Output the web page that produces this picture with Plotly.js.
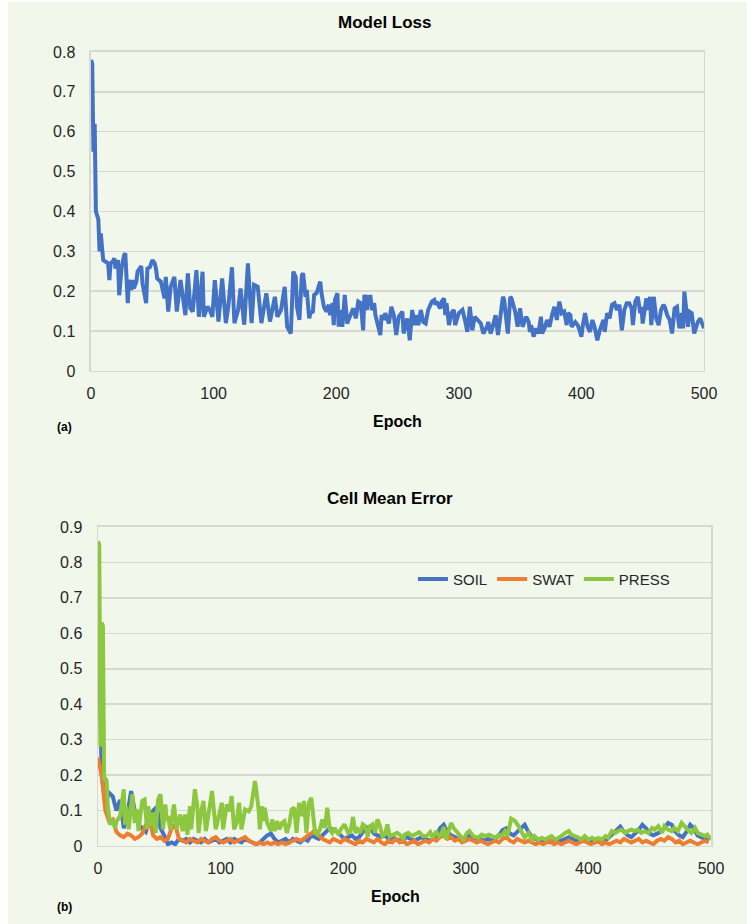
<!DOCTYPE html>
<html>
<head>
<meta charset="utf-8">
<script src="https://cdn.plot.ly/plotly-3.0.1.min.js"></script>
<style>
  html, body { margin: 0; padding: 0; background: #ffffff; }
  #chart { position: absolute; left: 8px; top: 2px; width: 739px; height: 922px; }
</style>
</head>
<body>
<div id="chart"></div>
<script>
// ---------- Data: (a) Model Loss ----------
const lossEpoch = [
  0,1,2,3,4,5,6,7,8,9,10,12,14,15,16,18,19,20,22,23,25,27,28,30,31,33,34,35,37,38,
  41,42,45,46,48,50,52,53,54,57,60,61,63,65,68,70,73,77,79,81,83,86,88,91,92,95,97,99,101,104,
  107,110,112,115,117,120,122,125,128,131,133,136,139,143,146,150,152,155,158,160,163,165,167,168,170,172,173,175,176,178,
  179,181,182,184,187,188,190,192,194,195,197,198,199,201,202,203,205,207,209,210,212,214,216,217,218,220,222,223,225,226,
  228,229,231,232,234,236,237,239,240,243,245,247,249,251,254,255,258,259,260,262,264,266,267,269,271,273,275,278,280,281,
  282,284,285,286,288,289,290,292,294,296,297,300,303,305,307,309,311,313,315,318,320,323,324,326,328,330,332,335,336,337,
  340,342,343,346,348,350,352,355,357,358,359,361,363,365,367,368,370,372,374,376,378,380,382,384,386,388,389,391,392,395,
  397,399,400,401,403,405,407,409,411,413,415,418,419,421,423,425,427,429,431,433,435,437,439,441,442,444,446,448,449,450,
  452,453,454,456,457,459,461,463,465,467,468,470,472,474,476,478,479,480,482,483,484,486,487,488,490,491,492,495,497,498,
  500
];
const lossValue = [
  0.78,0.77,0.55,0.62,0.40,0.39,0.38,0.30,0.345,0.31,0.278,0.274,0.27,0.228,0.27,0.275,0.283,0.257,0.278,0.19,0.26,0.29,0.295,0.17,0.228,0.203,0.228,0.207,0.224,0.249,
  0.263,0.22,0.17,0.257,0.26,0.278,0.27,0.257,0.232,0.224,0.182,0.236,0.149,0.211,0.236,0.149,0.228,0.14,0.245,0.157,0.149,0.253,0.136,0.249,0.136,0.161,0.153,0.136,0.228,0.124,
  0.232,0.12,0.161,0.26,0.12,0.153,0.207,0.116,0.27,0.12,0.216,0.211,0.12,0.195,0.124,0.186,0.136,0.153,0.211,0.111,0.094,0.249,0.236,0.161,0.128,0.24,0.245,0.186,0.203,0.132,
  0.145,0.149,0.191,0.195,0.224,0.195,0.161,0.149,0.166,0.14,0.17,0.115,0.178,0.195,0.111,0.153,0.111,0.191,0.119,0.128,0.145,0.157,0.132,0.153,0.174,0.17,0.102,0.191,0.153,0.186,
  0.186,0.153,0.17,0.14,0.119,0.09,0.14,0.128,0.145,0.119,0.161,0.14,0.09,0.136,0.149,0.094,0.132,0.098,0.077,0.153,0.115,0.14,0.115,0.153,0.123,0.119,0.153,0.174,0.178,0.166,
  0.174,0.161,0.157,0.174,0.182,0.14,0.17,0.115,0.145,0.153,0.115,0.145,0.153,0.128,0.098,0.161,0.102,0.136,0.128,0.119,0.094,0.111,0.123,0.094,0.115,0.14,0.09,0.178,0.186,0.178,
  0.094,0.186,0.182,0.149,0.111,0.157,0.111,0.136,0.123,0.098,0.115,0.086,0.107,0.094,0.136,0.094,0.107,0.128,0.111,0.14,0.161,0.128,0.174,0.145,0.149,0.115,0.145,0.14,0.111,0.123,
  0.115,0.098,0.086,0.111,0.145,0.111,0.098,0.128,0.107,0.077,0.102,0.128,0.098,0.145,0.132,0.166,0.17,0.153,0.166,0.102,0.153,0.17,0.17,0.157,0.115,0.174,0.186,0.145,0.161,0.119,
  0.174,0.182,0.153,0.186,0.115,0.186,0.132,0.115,0.153,0.166,0.161,0.14,0.128,0.094,0.157,0.161,0.128,0.107,0.145,0.107,0.199,0.145,0.111,0.149,0.145,0.119,0.094,0.123,0.132,0.123,
  0.107
];

// ---------- Data: (b) Cell Mean Error ----------
// SOIL and SWAT sampled every 3 epochs starting at epoch 0
const soilValue = [
  0.72,0.2,0.12,0.15,0.14,0.10,0.13,0.05,0.09,0.155,
  0.10,0.06,0.05,0.04,0.07,0.10,0.11,0.05,0.03,0.005,
  0.01,0.005,0.02,0.015,0.02,0.01,0.02,0.015,0.01,0.02,
  0.01,0.015,0.02,0.01,0.015,0.02,0.01,0.02,0.015,0.01,
  0.02,0.015,0.01,0.005,0.01,0.02,0.03,0.035,0.02,0.01,
  0.015,0.02,0.01,0.02,0.015,0.01,0.02,0.015,0.03,0.025,
  0.02,0.03,0.04,0.05,0.045,0.04,0.03,0.02,0.025,0.03,
  0.02,0.025,0.04,0.05,0.055,0.035,0.03,0.025,0.03,0.02,
  0.025,0.02,0.015,0.02,0.025,0.02,0.015,0.02,0.025,0.02,
  0.015,0.02,0.03,0.05,0.06,0.04,0.03,0.025,0.02,0.015,
  0.02,0.03,0.025,0.02,0.02,0.015,0.02,0.015,0.02,0.03,
  0.045,0.05,0.035,0.03,0.04,0.05,0.06,0.04,0.025,0.02,
  0.015,0.02,0.015,0.01,0.015,0.02,0.015,0.02,0.025,0.02,
  0.015,0.02,0.015,0.02,0.015,0.01,0.015,0.02,0.015,0.025,
  0.035,0.045,0.055,0.04,0.03,0.025,0.035,0.045,0.06,0.05,
  0.035,0.03,0.035,0.04,0.05,0.065,0.06,0.04,0.03,0.025,
  0.04,0.06,0.05,0.03,0.025,0.02,0.015
];
const swatValue = [
  0.25,0.2,0.1,0.07,0.075,0.04,0.03,0.025,0.035,0.03,
  0.02,0.025,0.035,0.06,0.075,0.03,0.02,0.025,0.015,0.02,
  0.05,0.06,0.02,0.015,0.01,0.02,0.015,0.01,0.02,0.015,
  0.01,0.02,0.025,0.015,0.01,0.015,0.02,0.01,0.015,0.02,
  0.025,0.015,0.01,0.005,0.01,0.005,0.01,0.005,0.01,0.005,
  0.01,0.005,0.01,0.015,0.02,0.015,0.02,0.03,0.035,0.045,
  0.03,0.02,0.015,0.01,0.02,0.015,0.01,0.02,0.015,0.01,
  0.005,0.015,0.01,0.02,0.015,0.01,0.02,0.01,0.005,0.015,
  0.01,0.02,0.01,0.015,0.005,0.01,0.015,0.005,0.01,0.015,
  0.01,0.02,0.015,0.025,0.03,0.02,0.025,0.015,0.02,0.01,
  0.015,0.02,0.015,0.01,0.015,0.01,0.005,0.01,0.015,0.01,
  0.02,0.025,0.015,0.01,0.02,0.015,0.01,0.015,0.01,0.005,
  0.01,0.005,0.01,0.015,0.005,0.01,0.005,0.01,0.015,0.01,
  0.005,0.01,0.015,0.01,0.005,0.01,0.015,0.005,0.01,0.005,
  0.01,0.015,0.01,0.02,0.015,0.01,0.015,0.02,0.01,0.015,
  0.01,0.005,0.015,0.02,0.015,0.025,0.02,0.01,0.015,0.005,
  0.01,0.015,0.01,0.005,0.01,0.015,0.01
];
const pressEpoch = [
  0,1,2,3,4,5,6,7,8,9,10,12,14,15,18,21,22,23,25,26,28,30,32,33,36,38,40,41,43,45,
  47,49,51,53,55,56,57,59,62,64,67,69,71,73,75,76,79,81,82,84,86,88,90,93,95,96,98,101,102,105,
  107,109,111,113,115,117,120,123,125,127,128,129,131,132,134,135,136,138,139,141,142,144,146,148,150,152,154,156,158,160,
  162,164,166,168,170,172,174,176,177,179,181,183,185,187,189,191,193,196,198,201,204,206,208,210,212,214,216,218,220,222,
  224,226,228,230,232,234,236,238,241,244,246,249,250,253,256,259,262,265,268,271,273,276,278,280,282,284,288,290,292,295,
  298,301,303,306,310,313,316,319,322,324,327,329,332,334,337,340,343,345,348,351,354,356,359,362,365,367,370,373,376,378,
  381,384,386,389,392,394,397,400,403,405,408,411,414,416,419,422,424,427,430,432,435,438,440,443,446,449,452,454,457,460,
  462,465,468,470,473,476,479,481,484,487,489,492,495,497,500
];
const pressValue = [
  0.86,0.85,0.28,0.63,0.62,0.19,0.19,0.185,0.11,0.075,0.06,0.075,0.05,0.07,0.084,0.16,0.06,0.112,0.047,0.08,0.146,0.065,0.103,0.042,0.127,0.131,0.047,0.112,0.056,0.094,
  0.037,0.131,0.146,0.047,0.117,0.07,0.084,0.047,0.117,0.047,0.089,0.042,0.089,0.032,0.112,0.047,0.16,0.112,0.037,0.094,0.127,0.042,0.084,0.155,0.084,0.047,0.075,0.122,0.047,0.117,
  0.098,0.141,0.047,0.065,0.122,0.047,0.103,0.098,0.112,0.169,0.183,0.16,0.103,0.047,0.112,0.07,0.108,0.065,0.056,0.042,0.075,0.042,0.07,0.047,0.065,0.07,0.037,0.061,0.103,0.108,
  0.037,0.122,0.084,0.127,0.037,0.122,0.136,0.075,0.037,0.032,0.047,0.075,0.051,0.108,0.047,0.037,0.051,0.032,0.047,0.061,0.037,0.042,0.082,0.037,0.047,0.037,0.061,0.056,0.027,0.056,
  0.061,0.037,0.075,0.056,0.027,0.032,0.061,0.027,0.032,0.037,0.032,0.018,0.032,0.037,0.028,0.032,0.039,0.028,0.028,0.039,0.023,0.042,0.028,0.032,0.054,0.018,0.065,0.051,0.042,0.028,
  0.018,0.037,0.042,0.028,0.023,0.032,0.028,0.032,0.028,0.023,0.032,0.028,0.042,0.028,0.077,0.071,0.056,0.042,0.023,0.037,0.018,0.028,0.018,0.023,0.018,0.023,0.028,0.018,0.023,0.028,
  0.037,0.042,0.032,0.028,0.023,0.018,0.028,0.018,0.023,0.018,0.023,0.018,0.028,0.023,0.042,0.037,0.042,0.046,0.037,0.042,0.046,0.042,0.046,0.037,0.042,0.037,0.051,0.046,0.056,0.037,
  0.056,0.046,0.042,0.051,0.042,0.065,0.051,0.046,0.037,0.051,0.037,0.032,0.028,0.032,0.018
];

const seriesNames = ['SOIL', 'SWAT', 'PRESS'];
const xTicks = [0, 100, 200, 300, 400, 500];

// ---------- Styling ----------
const BG = '#f2f7ec';
const GRID = '#d5d9d0';
const FONT = 'Liberation Sans, Arial, sans-serif';
const TICKCOL = '#262626';

function axisX(domain, anchor) {
  return {
    domain: domain, anchor: anchor, range: [0, 500],
    tickvals: xTicks, ticktext: xTicks.map(String),
    showgrid: false, zeroline: false,
    showline: true, linecolor: GRID, linewidth: 1.5, mirror: true,
    ticks: 'outside', ticklen: 7, tickcolor: 'rgba(0,0,0,0)',
    tickfont: {family: FONT, size: 16, color: TICKCOL},
    fixedrange: true
  };
}
function axisY(domain, anchor, maxv) {
  return {
    domain: domain, anchor: anchor, range: [0, maxv], dtick: 0.1, tick0: 0,
    showgrid: true, gridcolor: GRID, gridwidth: 1.5, zeroline: false,
    showline: true, linecolor: GRID, linewidth: 1.5, mirror: true,
    ticks: 'outside', ticklen: 11, tickcolor: 'rgba(0,0,0,0)',
    tickfont: {family: FONT, size: 16, color: TICKCOL},
    fixedrange: true
  };
}

const traces = [
  {x: lossEpoch, y: lossValue, xaxis: 'x', yaxis: 'y', type: 'scatter', mode: 'lines',
   line: {color: '#4472c4', width: 4}, showlegend: false, name: 'Loss'},
  {y: soilValue, x0: 0, dx: 3, xaxis: 'x2', yaxis: 'y2', type: 'scatter', mode: 'lines',
   line: {color: '#4472c4', width: 4}, name: seriesNames[0]},
  {y: swatValue, x0: 0, dx: 3, xaxis: 'x2', yaxis: 'y2', type: 'scatter', mode: 'lines',
   line: {color: '#ed7d31', width: 4}, name: seriesNames[1]},
  {x: pressEpoch, y: pressValue, xaxis: 'x2', yaxis: 'y2', type: 'scatter', mode: 'lines',
   line: {color: '#8dc63f', width: 4}, name: seriesNames[2]}
];

const ann = (text, x, y, size, bold) => ({
  text: bold ? '<b>' + text + '</b>' : text, x: x, y: y, xref: 'paper', yref: 'paper',
  xanchor: 'center', yanchor: 'middle', showarrow: false,
  font: {family: FONT, size: size, color: '#000000'}
});

const layout = {
  width: 739, height: 922,
  paper_bgcolor: BG, plot_bgcolor: BG,
  margin: {l: 0, r: 0, t: 0, b: 0, pad: 0},
  xaxis: axisX([0.1123, 0.9418], 'y'),
  yaxis: axisY([0.5998, 0.9458], 'x', 0.8),
  xaxis2: axisX([0.1218, 0.9513], 'y2'),
  yaxis2: axisY([0.0846, 0.4306], 'x2', 0.9),
  showlegend: true,
  legend: {
    orientation: 'h', x: 0.548, y: 0.374, xanchor: 'left', yanchor: 'middle',
    bgcolor: 'rgba(0,0,0,0)', font: {family: FONT, size: 15, color: TICKCOL},
    tracegroupgap: 0
  },
  annotations: [
    ann('Model Loss', 0.5101, 0.9783, 17, true),
    ann('Epoch', 0.5264, 0.5445, 16, true),
    ann('(a)', 0.0771, 0.5390, 12, true),
    ann('Cell Mean Error', 0.5169, 0.4620, 17, true),
    ann('Epoch', 0.525, 0.0293, 16, true),
    ann('(b)', 0.0771, 0.0184, 12, true)
  ]
};

Plotly.newPlot('chart', traces, layout, {staticPlot: true, displayModeBar: false});
</script>
</body>
</html>
